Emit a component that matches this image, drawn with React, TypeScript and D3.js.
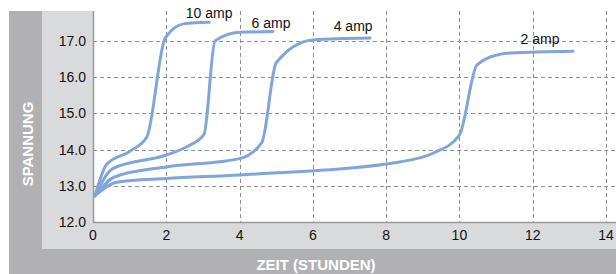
import * as d3 from "d3";
import React, { useEffect, useRef } from "react";

type Pt = [number, number];

// hours, volts
const amp10: Pt[] = [
  [0.05, 12.72], [0.38, 13.6], [1.0, 13.95], [1.47, 14.35], [1.97, 17.08], [2.5, 17.48], [3.17, 17.52],
];
const amp6: Pt[] = [
  [0.05, 12.72], [0.55, 13.48], [2.0, 13.85], [2.6, 14.1], [3.03, 14.42], [3.33, 17.0], [4.0, 17.24], [4.91, 17.26],
];
const amp4: Pt[] = [
  [0.05, 12.72], [0.6, 13.25], [2.0, 13.52], [4.0, 13.75], [4.61, 14.2], [5.0, 16.4], [6.0, 17.03], [7.56, 17.08],
];
const amp2: Pt[] = [
  [0.05, 12.72], [0.65, 13.1], [2.0, 13.2], [4.0, 13.3], [8.37, 13.66], [9.28, 13.9], [10.0, 14.4],
  [10.48, 16.34], [11.1, 16.63], [11.4, 16.67], [13.1, 16.72],
];

const seriesNames = ["10 amp", "6 amp", "4 amp", "2 amp"];
const seriesData = [amp10, amp6, amp4, amp2];
// label baseline anchor (hours, volts) for each series
const labelPos: Pt[] = [[3.17, 17.64], [4.86, 17.36], [7.1, 17.28], [12.2, 16.92]];

const xTicks = [0, 2, 4, 6, 8, 10, 12, 14];
const yTicks = [12, 13, 14, 15, 16, 17];

const W = 616;
const H = 274;
const M = { left: 93, top: 11, right: 616, bottom: 222 };

const App: React.FC = () => {
  const ref = useRef<SVGSVGElement>(null);

  useEffect(() => {
    const svg = d3.select(ref.current);
    svg.selectAll("*").remove();

    const x = d3.scaleLinear().domain([0, 14]).range([M.left, M.left + 14 * 36.64]);
    const y = d3.scaleLinear().domain([12, 17]).range([M.bottom, M.bottom - 5 * 36.2]);

    svg.append("rect").attr("x", 9).attr("y", 11).attr("width", W - 9).attr("height", H - 11).attr("fill", "#b1b1b3");
    svg.append("rect").attr("x", 42).attr("y", 11).attr("width", W - 42).attr("height", 238).attr("fill", "#d9dadb");
    svg.append("rect").attr("x", M.left).attr("y", M.top).attr("width", M.right - M.left).attr("height", M.bottom - M.top).attr("fill", "#fff");

    const grid = svg.append("g").attr("stroke", "#8f8f8f").attr("stroke-width", 1).attr("stroke-dasharray", "4,3");
    grid.selectAll("line.v")
      .data(xTicks.filter((d) => d > 0))
      .enter()
      .append("line")
      .attr("x1", (d) => Math.round(x(d)) + 0.5)
      .attr("x2", (d) => Math.round(x(d)) + 0.5)
      .attr("y1", M.top)
      .attr("y2", M.bottom);
    grid.selectAll("line.h")
      .data(yTicks.filter((d) => d > 12))
      .enter()
      .append("line")
      .attr("x1", M.left)
      .attr("x2", M.right)
      .attr("y1", (d) => Math.round(y(d)) + 0.5)
      .attr("y2", (d) => Math.round(y(d)) + 0.5);

    svg.append("line").attr("x1", M.left + 0.5).attr("x2", M.left + 0.5).attr("y1", M.top).attr("y2", M.bottom + 1).attr("stroke", "#9a9a9a").attr("stroke-width", 1.5);
    svg.append("line").attr("x1", M.left).attr("x2", M.right).attr("y1", M.bottom + 0.5).attr("y2", M.bottom + 0.5).attr("stroke", "#9a9a9a").attr("stroke-width", 1.5);

    const font = "Liberation Sans, Arial, sans-serif";

    svg.append("g").selectAll("text")
      .data(yTicks)
      .enter()
      .append("text")
      .attr("x", 86)
      .attr("y", (d) => y(d) + 5)
      .attr("text-anchor", "end")
      .attr("font-family", font)
      .attr("font-size", 14)
      .attr("fill", "#111")
      .text((d) => d.toFixed(1));

    svg.append("g").selectAll("text")
      .data(xTicks)
      .enter()
      .append("text")
      .attr("x", (d) => x(d))
      .attr("y", 240)
      .attr("text-anchor", "middle")
      .attr("font-family", font)
      .attr("font-size", 14)
      .attr("fill", "#111")
      .text((d) => String(d));

    const line = d3.line<Pt>()
      .x((d) => x(d[0]))
      .y((d) => y(d[1]))
      .curve(d3.curveMonotoneX);

    svg.append("g").selectAll("path")
      .data(seriesData)
      .enter()
      .append("path")
      .attr("d", (d) => line(d))
      .attr("fill", "none")
      .attr("stroke", "#80a6d9")
      .attr("stroke-width", 3)
      .attr("stroke-linecap", "round")
      .attr("stroke-linejoin", "round");

    svg.append("g").selectAll("text")
      .data(seriesNames)
      .enter()
      .append("text")
      .attr("x", (_, i) => x(labelPos[i][0]))
      .attr("y", (_, i) => y(labelPos[i][1]))
      .attr("text-anchor", "middle")
      .attr("font-family", font)
      .attr("font-size", 14)
      .attr("fill", "#111")
      .text((d) => d);

    svg.append("text")
      .attr("transform", "translate(33,144) rotate(-90)")
      .attr("text-anchor", "middle")
      .attr("font-family", font)
      .attr("font-weight", "bold")
      .attr("font-size", 15)
      .attr("fill", "#fff")
      .text("SPANNUNG");

    svg.append("text")
      .attr("x", 316)
      .attr("y", 270)
      .attr("text-anchor", "middle")
      .attr("font-family", font)
      .attr("font-weight", "bold")
      .attr("font-size", 15)
      .attr("fill", "#fff")
      .text("ZEIT (STUNDEN)");
  }, []);

  return (
    <svg
      ref={ref}
      width={W}
      height={H}
      style={{ position: "absolute", left: 0, top: 0, display: "block" }}
    />
  );
};

export default App;
